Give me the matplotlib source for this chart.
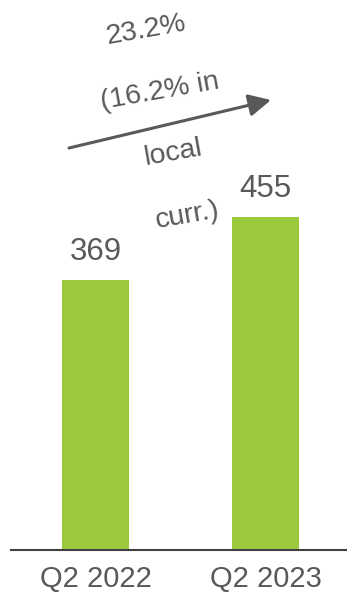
import matplotlib
matplotlib.use("Agg")
import matplotlib.pyplot as plt

categories = ["Q2 2022", "Q2 2023"]
values = [369, 455]
growth_lines = ["23.2%", "(16.2% in", "local", "curr.)"]

W, H = 347, 593
fig = plt.figure(figsize=(W / 100, H / 100), dpi=100)
plt.rcParams['font.family'] = ['Liberation Sans', 'DejaVu Sans']

ax = fig.add_axes([11 / W, 43 / H, 336 / W, 550 / H])
x = list(range(len(categories)))
bars = ax.bar(x, values, width=0.394, color="#9BC83C", zorder=2)
ax.set_xlim(-0.497, 1.479)
ax.set_ylim(0, 751)

for b, v in zip(bars, values):
    ax.annotate(str(v), (b.get_x() + b.get_width() / 2, v), xytext=(0, 9),
                textcoords="offset points", ha="center", va="bottom",
                fontsize=22.5, color="#595959")

ax.set_xticks(x)
ax.set_xticklabels(categories, fontsize=21, color="#595959")
ax.tick_params(axis="x", length=0, pad=10.5)
ax.set_yticks([])
for s in ["top", "right", "left"]:
    ax.spines[s].set_visible(False)
ax.spines["bottom"].set_color("#404040")
ax.spines["bottom"].set_linewidth(1.5)

# growth arrow
fig.patches.append(matplotlib.patches.FancyArrowPatch(
    (69 / W, 1 - 148 / H), (271 / W, 1 - 100 / H), transform=fig.transFigure,
    arrowstyle="-|>,head_length=0.9,head_width=0.45", mutation_scale=15,
    color="#595959", lw=2.2, shrinkA=0, shrinkB=0))

pos = [(146, 30), (160, 92), (173, 153), (187, 216)]
for t, (px, py) in zip(growth_lines, pos):
    fig.text(px / W, 1 - py / H, t, ha="center", va="center", fontsize=20.5,
             color="#595959", rotation=10, rotation_mode="anchor")

fig.savefig("out.png", dpi=100)
